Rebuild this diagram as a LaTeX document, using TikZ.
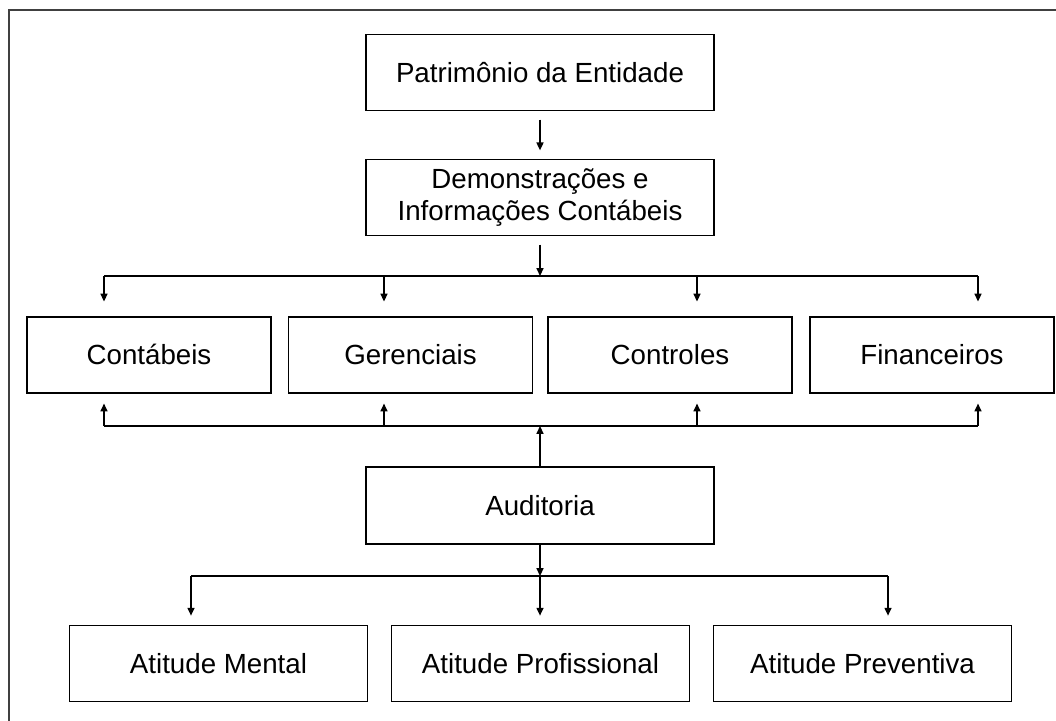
\documentclass[tikz,border=0pt]{standalone}
\usepackage{fontspec}
\setmainfont{Liberation Sans}
\usepackage{tikz}
\usetikzlibrary{arrows.meta,positioning,calc}
\tikzset{
  blockbox/.style={draw, line width=1pt, fill=white, minimum height=1.9cm,
                   font=\fontsize{19.7}{23.2}\selectfont, align=center, inner sep=0pt},
  oneline/.style={text height=18pt, text depth=4pt},
  flowarrow/.style={-{Triangle[length=5.6pt,width=5pt]}, line width=1pt},
  busline/.style={line width=1pt},
  framebox/.style={draw=black!75, line width=1.5pt}
}

\begin{document}
\begin{tikzpicture}[x=0.025cm, y=-0.025cm,
    widebox/.style={blockbox, minimum width=8.7cm},
    rowbox/.style={blockbox, oneline, minimum width=6.1cm},
    lowbox/.style={blockbox, oneline, minimum width=7.45cm}
  ]
  \useasboundingbox (0,0) rectangle (1056,721);
  \draw[framebox] (9,10) rectangle (1080,745);

  % Top
  \node[widebox, oneline] (pat) at (540,72.5) {Patrimônio da Entidade};
  \node[widebox] (dem) at (540,197.5) {Demonstrações e\\Informações Contábeis};

  % Middle row
  \node[rowbox] (cont) at (149,355)   {Contábeis};
  \node[rowbox] (ger)  at (410.5,355) {Gerenciais};
  \node[rowbox] (ctrl) at (670,355)   {Controles};
  \node[rowbox] (fin)  at (932,355)   {Financeiros};

  \node[widebox, oneline, minimum height=1.925cm] (aud) at (540,505.5) {Auditoria};

  % Bottom row
  \node[lowbox] (men)  at (218.5,663.5) {Atitude Mental};
  \node[lowbox] (prof) at (540.5,663.5) {Atitude Profissional};
  \node[lowbox] (prev) at (862.5,663.5) {Atitude Preventiva};

  \draw[flowarrow, shorten <=6pt, shorten >=6pt] (pat) -- (dem);

  % Upper bus
  \coordinate (u1) at (104,276);
  \coordinate (u2) at (384,276);
  \coordinate (u3) at (697,276);
  \coordinate (u4) at (978,276);
  \draw[busline] (u1) -- (u4);
  \draw[flowarrow, shorten <=6pt] (dem.south) -- (dem.south |- u1);
  \foreach \c/\n in {u1/cont, u2/ger, u3/ctrl, u4/fin}
    \draw[flowarrow, shorten >=10.5pt] (\c) -- (\c |- \n.north);

  % Lower bus
  \coordinate (l1) at (104,426);
  \coordinate (l2) at (384,426);
  \coordinate (l3) at (697,426);
  \coordinate (l4) at (978,426);
  \draw[busline] (l1) -- (l4);
  \draw[flowarrow] (aud.north) -- (aud.north |- l1);
  \foreach \c/\n in {l1/cont, l2/ger, l3/ctrl, l4/fin}
    \draw[flowarrow, shorten >=7pt] (\c) -- (\c |- \n.south);

  % Auditoria bus
  \coordinate (b1) at (191,576);
  \coordinate (b2) at (540,576);
  \coordinate (b3) at (888,576);
  \draw[busline] (b1) -- (b3);
  \draw[flowarrow] (aud.south) -- (aud.south |- b1);
  \foreach \c/\n in {b1/men, b2/prof, b3/prev}
    \draw[flowarrow, shorten >=6.5pt] (\c) -- (\c |- \n.north);
\end{tikzpicture}
\end{document}
